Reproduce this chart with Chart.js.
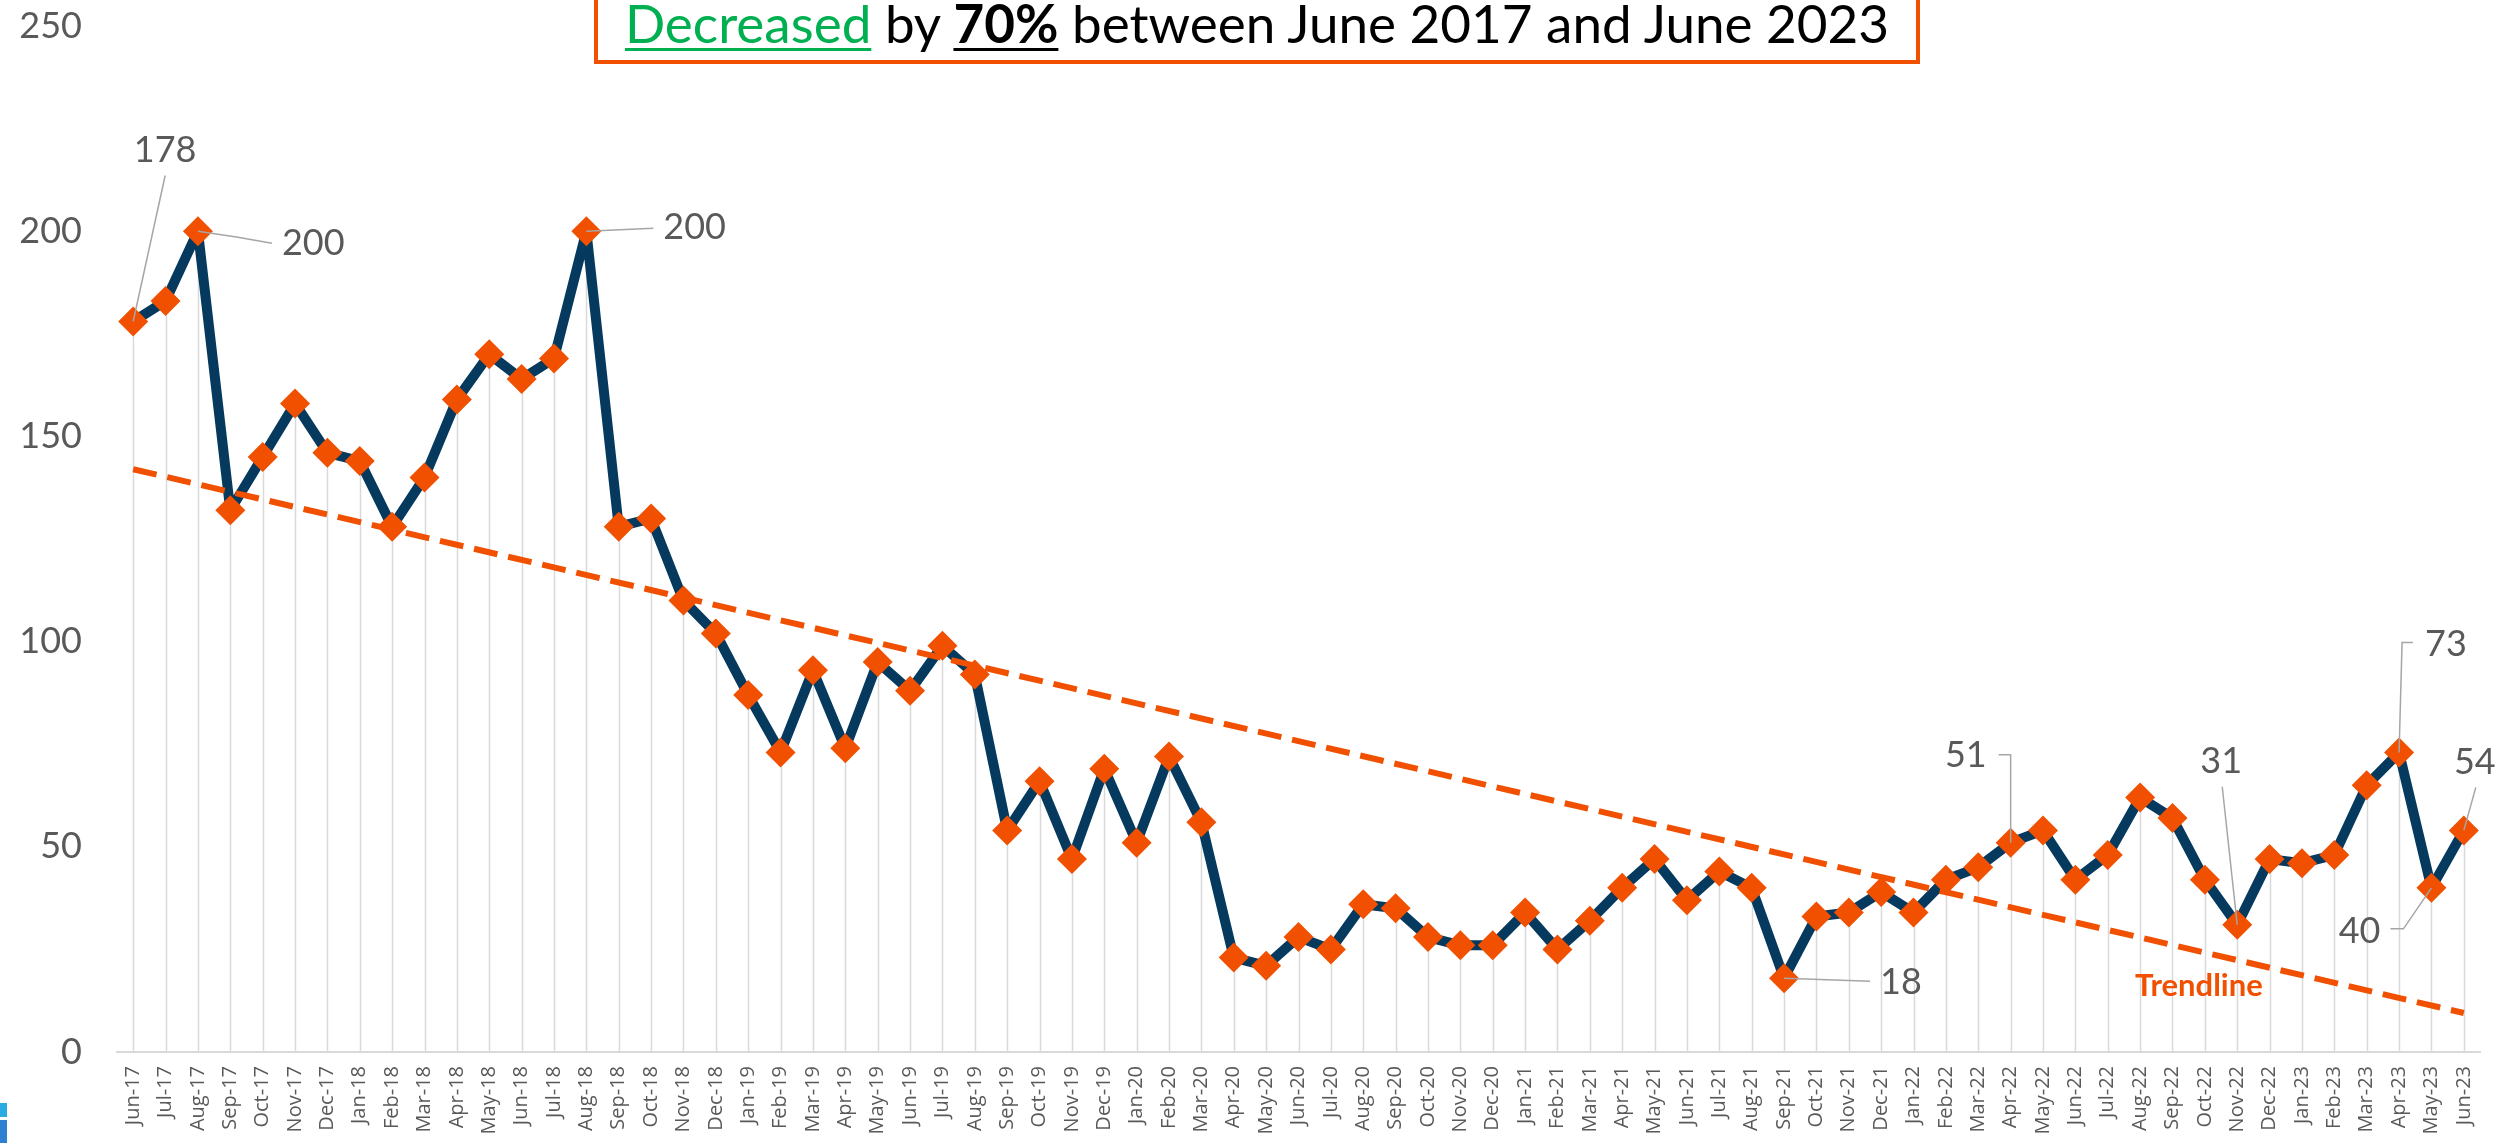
<!DOCTYPE html>
<html>
<head>
<meta charset="utf-8">
<script src="https://cdn.jsdelivr.net/npm/chart.js@4.4.1/dist/chart.umd.min.js"></script>
<style>
  html, body { margin: 0; padding: 0; background: #fff; }
  #wrap { position: relative; width: 2504px; height: 1143px; overflow: hidden; }
  #chart { position: absolute; left: 0; top: 0; }
  #title {
    position: absolute; left: 594px; top: -12px; width: 1326px; height: 76px;
    box-sizing: border-box; border: 4px solid #F05000; background: #fff;
    font-family: Lato, "Open Sans", sans-serif; font-size: 53px; color: #000;
    text-align: center; line-height: 62px; white-space: nowrap;
  }
  #title .green { color: #00B050; text-decoration: underline; text-decoration-thickness: 3px; text-underline-offset: 5px; }
  #title .pct { font-weight: bold; text-decoration: underline; text-decoration-thickness: 3px; text-underline-offset: 5px; }
  .tab1 { position: absolute; left: 0; top: 1103px; width: 7px; height: 14px; background: #29ABE2; }
  .tab2 { position: absolute; left: 0; top: 1120px; width: 7px; height: 23px; background: #2F7FD0; }
</style>
</head>
<body>
<div id="wrap">
  <canvas id="chart" width="2504" height="1143"></canvas>
  <div id="title"><span class="green">Decreased</span> by <span class="pct">70%</span> between June 2017 and June 2023</div>
  <div class="tab1"></div><div class="tab2"></div>
</div>
<script>
// months Jun-17 .. Jun-23
let months = [
  "Jun-17","Jul-17","Aug-17","Sep-17","Oct-17","Nov-17","Dec-17",
  "Jan-18","Feb-18","Mar-18","Apr-18","May-18","Jun-18","Jul-18","Aug-18","Sep-18","Oct-18","Nov-18","Dec-18",
  "Jan-19","Feb-19","Mar-19","Apr-19","May-19","Jun-19","Jul-19","Aug-19","Sep-19","Oct-19","Nov-19","Dec-19",
  "Jan-20","Feb-20","Mar-20","Apr-20","May-20","Jun-20","Jul-20","Aug-20","Sep-20","Oct-20","Nov-20","Dec-20",
  "Jan-21","Feb-21","Mar-21","Apr-21","May-21","Jun-21","Jul-21","Aug-21","Sep-21","Oct-21","Nov-21","Dec-21",
  "Jan-22","Feb-22","Mar-22","Apr-22","May-22","Jun-22","Jul-22","Aug-22","Sep-22","Oct-22","Nov-22","Dec-22",
  "Jan-23","Feb-23","Mar-23","Apr-23","May-23","Jun-23"
];
let counts = [
  178,183,200,132,145,158,146,
  144,128,140,159,170,164,169,200,128,130,110,102,
  87,73,93,74,95,88,99,92,54,66,47,69,
  51,72,56,23,21,28,25,36,35,28,26,26,
  34,25,32,40,47,37,44,40,18,33,34,39,
  34,42,45,51,54,42,48,62,57,42,31,47,
  46,48,65,73,40,54
];
// trendline end values
let trendMonths = ["Jun-17","Jun-23"];
let trendValues = [142,9.5];
let yTicks = [0,50,100,150,200,250];

// which points get a value label, and where (offsets from the point, px)
let callouts = [
  {i:0,  dx:32,  dy:-171, align:"center", path:[[0,0],[32,-146]]},
  {i:2,  dx:84,  dy:12,   align:"left",   path:[[0,0],[40,6],[74,12]]},
  {i:14, dx:77,  dy:-4,   align:"left",   path:[[0,0],[67,-3]]},
  {i:51, dx:96,  dy:4,    align:"left",   path:[[0,0],[86,3]]},
  {i:58, dx:-24, dy:-87,  align:"right",  path:[[0,0],[0,-88],[-12,-88]]},
  {i:65, dx:-16, dy:-163, align:"center", path:[[0,0],[-15,-138]]},
  {i:70, dx:26,  dy:-108, align:"left",   path:[[0,0],[3,-110],[14,-110]]},
  {i:71, dx:-51, dy:44,   align:"right",  path:[[0,0],[-28,41],[-41,41]]},
  {i:72, dx:11,  dy:-68,  align:"center", path:[[0,0],[12,-43]]}
];

const navy = "#053A5E";
const orange = "#F05000";
const grey = "#595959";

const dropLines = {
  id: "dropLines",
  beforeDatasetsDraw(chart) {
    const meta = chart.getDatasetMeta(1);
    const base = chart.scales.y.getPixelForValue(0);
    const ctx = chart.ctx;
    ctx.save();
    ctx.strokeStyle = "#d9d9d9";
    ctx.lineWidth = 1.5;
    meta.data.forEach(p => {
      ctx.beginPath();
      ctx.moveTo(Math.round(p.x) + 0.5, p.y);
      ctx.lineTo(Math.round(p.x) + 0.5, base);
      ctx.stroke();
    });
    ctx.restore();
  }
};

const calloutLabels = {
  id: "calloutLabels",
  afterDatasetsDraw(chart) {
    const meta = chart.getDatasetMeta(1);
    const ctx = chart.ctx;
    ctx.save();
    callouts.forEach(c => {
      const p = meta.data[c.i];
      ctx.strokeStyle = "#a6a6a6";
      ctx.lineWidth = 1.5;
      ctx.beginPath();
      c.path.forEach((q, k) => {
        if (k === 0) ctx.moveTo(p.x + q[0], p.y + q[1]);
        else ctx.lineTo(p.x + q[0], p.y + q[1]);
      });
      ctx.stroke();
      ctx.fillStyle = grey;
      ctx.font = "36px Lato";
      ctx.textAlign = c.align;
      ctx.textBaseline = "middle";
      ctx.fillText(String(counts[c.i]), p.x + c.dx, p.y + c.dy);
    });
    // trendline caption
    const x = chart.scales.x.getPixelForValue(64) - 6;
    const y = chart.scales.y.getPixelForValue(16);
    ctx.fillStyle = orange;
    ctx.font = "bold 31px Lato";
    ctx.textAlign = "center";
    ctx.fillText("Trendline", x, y);
    ctx.restore();
  }
};

new Chart(document.getElementById("chart"), {
  type: "line",
  data: {
    labels: months,
    datasets: [
      {
        label: "Trendline",
        data: trendMonths.map((m, k) => ({x: m, y: trendValues[k]})),
        borderColor: orange,
        borderWidth: 6,
        borderDash: [24, 11],
        pointRadius: 0,
        fill: false,
        order: 0
      },
      {
        label: "Count",
        data: counts,
        borderColor: navy,
        borderWidth: 10,
        borderJoinStyle: "round",
        borderCapStyle: "round",
        pointStyle: "rectRot",
        pointRadius: 15,
        pointBackgroundColor: orange,
        pointBorderColor: orange,
        pointBorderWidth: 0,
        tension: 0,
        fill: false,
        order: 1
      }
    ]
  },
  options: {
    responsive: false,
    animation: false,
    layout: { padding: { left: 0, right: 24, top: 26, bottom: 0 } },
    plugins: { legend: { display: false }, tooltip: { enabled: false } },
    scales: {
      x: {
        offset: true,
        grid: { display: false, drawTicks: false },
        border: { display: true, color: "#d9d9d9", width: 2 },
        ticks: {
          autoSkip: false, minRotation: 90, maxRotation: 90, padding: 14,
          color: grey, font: { family: "Open Sans", size: 20 }
        },
        afterFit(s) { s.height = 91; s.paddingLeft = 0; s.paddingRight = 0; }
      },
      y: {
        min: 0, max: 250,
        afterBuildTicks(s) { s.ticks = yTicks.map(v => ({value: v})); },
        grid: { display: false, drawTicks: false },
        border: { display: false },
        ticks: { padding: 35, color: grey, font: { family: "Lato", size: 36 } },
        afterFit(s) { s.width = 117; s.paddingTop = 0; s.paddingBottom = 0; }
      }
    }
  },
  plugins: [dropLines, calloutLabels]
});
</script>
</body>
</html>
